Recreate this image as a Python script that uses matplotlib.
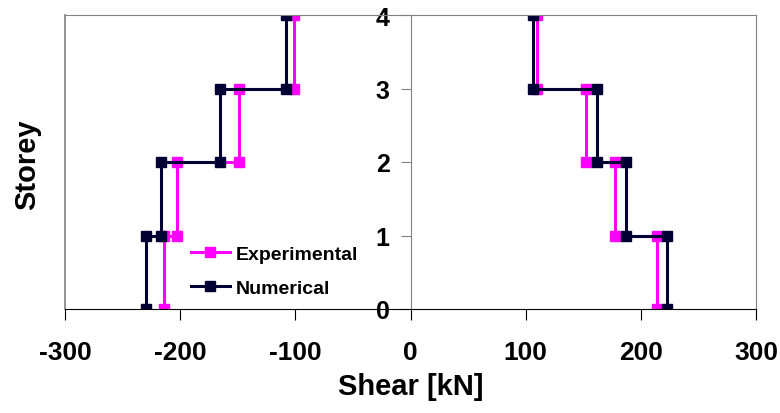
import numpy as np
import matplotlib.pyplot as plt

plt.rcParams['font.family'] = ['Liberation Sans', 'DejaVu Sans']
plt.rcParams['font.weight'] = 'bold'
plt.rcParams['axes.unicode_minus'] = False

# storey shear, top storey first (storey 4-3, 3-2, 2-1, 1-0)
levels = [4, 3, 2, 1, 0]
exp_neg = [-101, -149, -203, -214]
num_neg = [-108, -165, -217, -230]
exp_pos = [110, 152, 178, 214]
num_pos = [106, 162, 187, 223]

xticks = [-300, -200, -100, 0, 100, 200, 300]
yticks = [0, 1, 2, 3, 4]

magenta = '#FF00FF'
navy = '#000033'


def corners(shear):
    # each storey value spans from upper level down to lower level
    xs = np.repeat(shear, 2)
    ys = np.array([[levels[i], levels[i + 1]] for i in range(len(shear))]).ravel()
    return xs, ys


fig = plt.figure(figsize=(7.8, 4.14), dpi=100)
ax = fig.add_axes([65 / 780, 1 - 310 / 414, (756 - 65) / 780, (310 - 16) / 414])

style = dict(marker='s', markersize=6.5, linewidth=2.2)
for shear, lab in [(exp_neg, 'Experimental'), (exp_pos, None)]:
    xs, ys = corners(shear)
    ax.plot(xs, ys, color=magenta, label=lab, **style)
for shear, lab in [(num_neg, 'Numerical'), (num_pos, None)]:
    xs, ys = corners(shear)
    ax.plot(xs, ys, color=navy, label=lab, **style)

ax.set_xlim(-300, 300)
ax.set_ylim(0, 4)
ax.set_xticks(xticks)
ax.set_yticks(yticks)

# vertical axis crosses at zero, frame is gray
ax.spines['left'].set_position(('data', 0))
ax.spines['left'].set_color('#808080')
ax.spines['top'].set_color('#808080')
ax.spines['right'].set_color('#808080')
ax.spines['bottom'].set_color('black')
ax.axvline(-300, color='#808080', linewidth=1.2, clip_on=False, zorder=0)

ax.tick_params(axis='y', direction='out', length=7, color='#808080', labelsize=18, pad=8)
ax.tick_params(axis='x', direction='out', length=8, color='black', labelsize=19, pad=14)
for t in ax.get_xticklabels() + ax.get_yticklabels():
    t.set_fontweight('bold')

ax.set_xlabel('Shear [kN]', fontsize=21, fontweight='bold', labelpad=6)
fig.text(27 / 780, 1 - 165 / 414, 'Storey', rotation=90, fontsize=21, fontweight='bold',
         ha='center', va='center')

ax.legend(loc='upper left', bbox_to_anchor=(0.168, 0.25), frameon=False,
          prop={'size': 14, 'weight': 'bold'}, handlelength=2.0, handletextpad=0.3,
          labelspacing=0.85, borderpad=0)

fig.savefig('out.png', dpi=100)
